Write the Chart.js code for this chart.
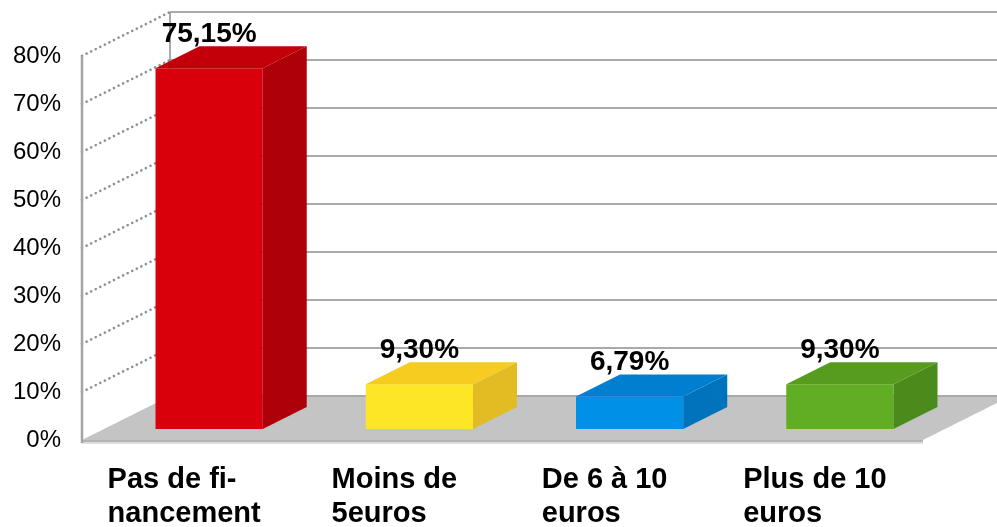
<!DOCTYPE html>
<html lang="fr">
<head>
<meta charset="utf-8">
<title>Financement</title>
<script src="https://cdn.jsdelivr.net/npm/chart.js@4"></script>
<style>
  html, body { margin: 0; padding: 0; background: #fff; }
  #wrap { width: 997px; height: 527px; position: relative; }
</style>
</head>
<body>
<div id="wrap"><canvas id="chart"></canvas></div>
<script>
/* ══════════════════════════════════════
   DATA
══════════════════════════════════════ */
const categories = [
  ["Pas de fi-", "nancement"],
  ["Moins de", "5euros"],
  ["De 6 à 10", "euros"],
  ["Plus de 10", "euros"],
];

const values = [75.15, 9.3, 6.79, 9.3];

const yTicks = [0, 10, 20, 30, 40, 50, 60, 70, 80];

/* ══════════════════════════════════════
   STYLE
══════════════════════════════════════ */
const frontColors = ["#d9000b", "#fde625", "#0090e6", "#61ad23"];
const topColors = ["#c3000a", "#f5cc1f", "#007fd0", "#579c1f"];
const sideColors = ["#ad0009", "#e1bc22", "#0073bd", "#4b8b1c"];

const FONT = '"Liberation Sans", Arial, sans-serif';

// 3D offsets (pixels)
const WALL_DX = 88, WALL_DY = -44;   // front plane -> back wall
const BAR_DX = 22, BAR_DY = -11;     // front plane -> bar front face
const DEPTH_DX = 44, DEPTH_DY = -22; // bar front -> bar back

function fmt(v) {
  return v.toFixed(2).replace(".", ",") + "%";
}

/* ══════════════════════════════════════
   3D PLUGIN
══════════════════════════════════════ */
const box3d = {
  id: "box3d",

  beforeDatasetsDraw(chart) {
    const { ctx, chartArea: a, scales: { y } } = chart;
    const y0 = y.getPixelForValue(0);
    const backLeft = a.left + WALL_DX;

    ctx.save();

    // floor
    ctx.fillStyle = "#c4c4c4";
    ctx.beginPath();
    ctx.moveTo(a.left, y0);
    ctx.lineTo(a.right, y0);
    ctx.lineTo(a.right + WALL_DX, y0 + WALL_DY);
    ctx.lineTo(backLeft, y0 + WALL_DY);
    ctx.closePath();
    ctx.fill();

    ctx.fillStyle = "#b4b4b4";
    ctx.fillRect(a.left, y0, a.right - a.left, 2);
    ctx.fillStyle = "#dedede";
    ctx.fillRect(a.left, y0 + 2, a.right - a.left, 2);

    // back wall grid
    ctx.strokeStyle = "#a9a9a9";
    ctx.lineWidth = 2;
    yTicks.forEach((v) => {
      const py = y.getPixelForValue(v) + WALL_DY;
      ctx.beginPath();
      ctx.moveTo(backLeft, py);
      ctx.lineTo(chart.width, py);
      ctx.stroke();
    });

    // back wall left edge
    const yTop = y.getPixelForValue(yTicks[yTicks.length - 1]);
    ctx.beginPath();
    ctx.moveTo(backLeft, yTop + WALL_DY);
    ctx.lineTo(backLeft, y0 + WALL_DY);
    ctx.stroke();

    // left wall dotted lines
    ctx.strokeStyle = "#8f8f8f";
    ctx.lineWidth = 2.6;
    ctx.lineCap = "round";
    ctx.setLineDash([0.1, 5]);
    yTicks.forEach((v) => {
      if (v === 0) return;
      const py = y.getPixelForValue(v);
      ctx.beginPath();
      ctx.moveTo(a.left, py);
      ctx.lineTo(backLeft, py + WALL_DY);
      ctx.stroke();
    });
    ctx.setLineDash([]);
    ctx.lineCap = "butt";

    // front axis line
    ctx.strokeStyle = "#a4a4a4";
    ctx.lineWidth = 2.5;
    ctx.beginPath();
    ctx.moveTo(a.left, yTop);
    ctx.lineTo(a.left, y0 + 3);
    ctx.stroke();

    ctx.restore();

    // bars sit a little inside the floor
    ctx.save();
    ctx.translate(BAR_DX, BAR_DY);
  },

  afterDatasetsDraw(chart) {
    const { ctx } = chart;
    const meta = chart.getDatasetMeta(0);

    meta.data.forEach((bar, i) => {
      const { x, y, base, width } = bar.getProps(
        ["x", "y", "base", "width"],
        true
      );
      const l = x - width / 2;
      const r = x + width / 2;

      // top face
      ctx.fillStyle = topColors[i];
      ctx.beginPath();
      ctx.moveTo(l, y);
      ctx.lineTo(r, y);
      ctx.lineTo(r + DEPTH_DX, y + DEPTH_DY);
      ctx.lineTo(l + DEPTH_DX, y + DEPTH_DY);
      ctx.closePath();
      ctx.fill();

      // side face
      ctx.fillStyle = sideColors[i];
      ctx.beginPath();
      ctx.moveTo(r, y);
      ctx.lineTo(r + DEPTH_DX, y + DEPTH_DY);
      ctx.lineTo(r + DEPTH_DX, base + DEPTH_DY);
      ctx.lineTo(r, base);
      ctx.closePath();
      ctx.fill();
    });

    ctx.restore();

    // value labels
    ctx.save();
    ctx.font = `bold 28px ${FONT}`;
    ctx.fillStyle = "#000";
    ctx.textAlign = "center";
    ctx.textBaseline = "alphabetic";
    meta.data.forEach((bar, i) => {
      const { x, y } = bar.getProps(["x", "y"], true);
      ctx.fillText(
        fmt(values[i]),
        x + BAR_DX,
        y + BAR_DY + DEPTH_DY - 4
      );
    });
    ctx.restore();
  },

  afterDraw(chart) {
    const { ctx, chartArea: a, scales: { x } } = chart;

    ctx.save();
    ctx.font = `bold 29px ${FONT}`;
    ctx.fillStyle = "#000";
    ctx.textAlign = "left";
    ctx.textBaseline = "alphabetic";

    categories.forEach((lines, i) => {
      const cx = x.getPixelForValue(i);
      const w = Math.max(...lines.map((t) => ctx.measureText(t).width));
      lines.forEach((t, j) => {
        ctx.fillText(t, cx - w / 2 - 3, a.bottom + 48 + j * 34);
      });
    });
    ctx.restore();
  },
};

/* ══════════════════════════════════════
   CHART
══════════════════════════════════════ */
new Chart(document.getElementById("chart"), {
  type: "bar",

  data: {
    labels: categories,
    datasets: [
      {
        data: values,
        backgroundColor: frontColors,
        borderWidth: 0,
        barPercentage: 0.51,
        categoryPercentage: 1,
        clip: false,
      },
    ],
  },

  options: {
    responsive: true,
    maintainAspectRatio: false,
    animation: false,
    events: [],

    layout: {
      padding: { top: 56, right: 74, bottom: 87, left: 0 },
    },

    plugins: {
      legend: { display: false },
      tooltip: { enabled: false },
    },

    scales: {
      x: {
        display: false,
      },

      y: {
        min: yTicks[0],
        max: yTicks[yTicks.length - 1],
        afterBuildTicks: (s) => {
          s.ticks = yTicks.map((v) => ({ value: v }));
        },
        afterFit: (s) => {
          s.width = 82;
        },
        grid: { display: false, drawTicks: false },
        border: { display: false },
        ticks: {
          padding: 21,
          color: "#000",
          font: { family: FONT, size: 24 },
          callback: (v) => `${v}%`,
        },
      },
    },
  },

  plugins: [box3d],
});
</script>
</body>
</html>
